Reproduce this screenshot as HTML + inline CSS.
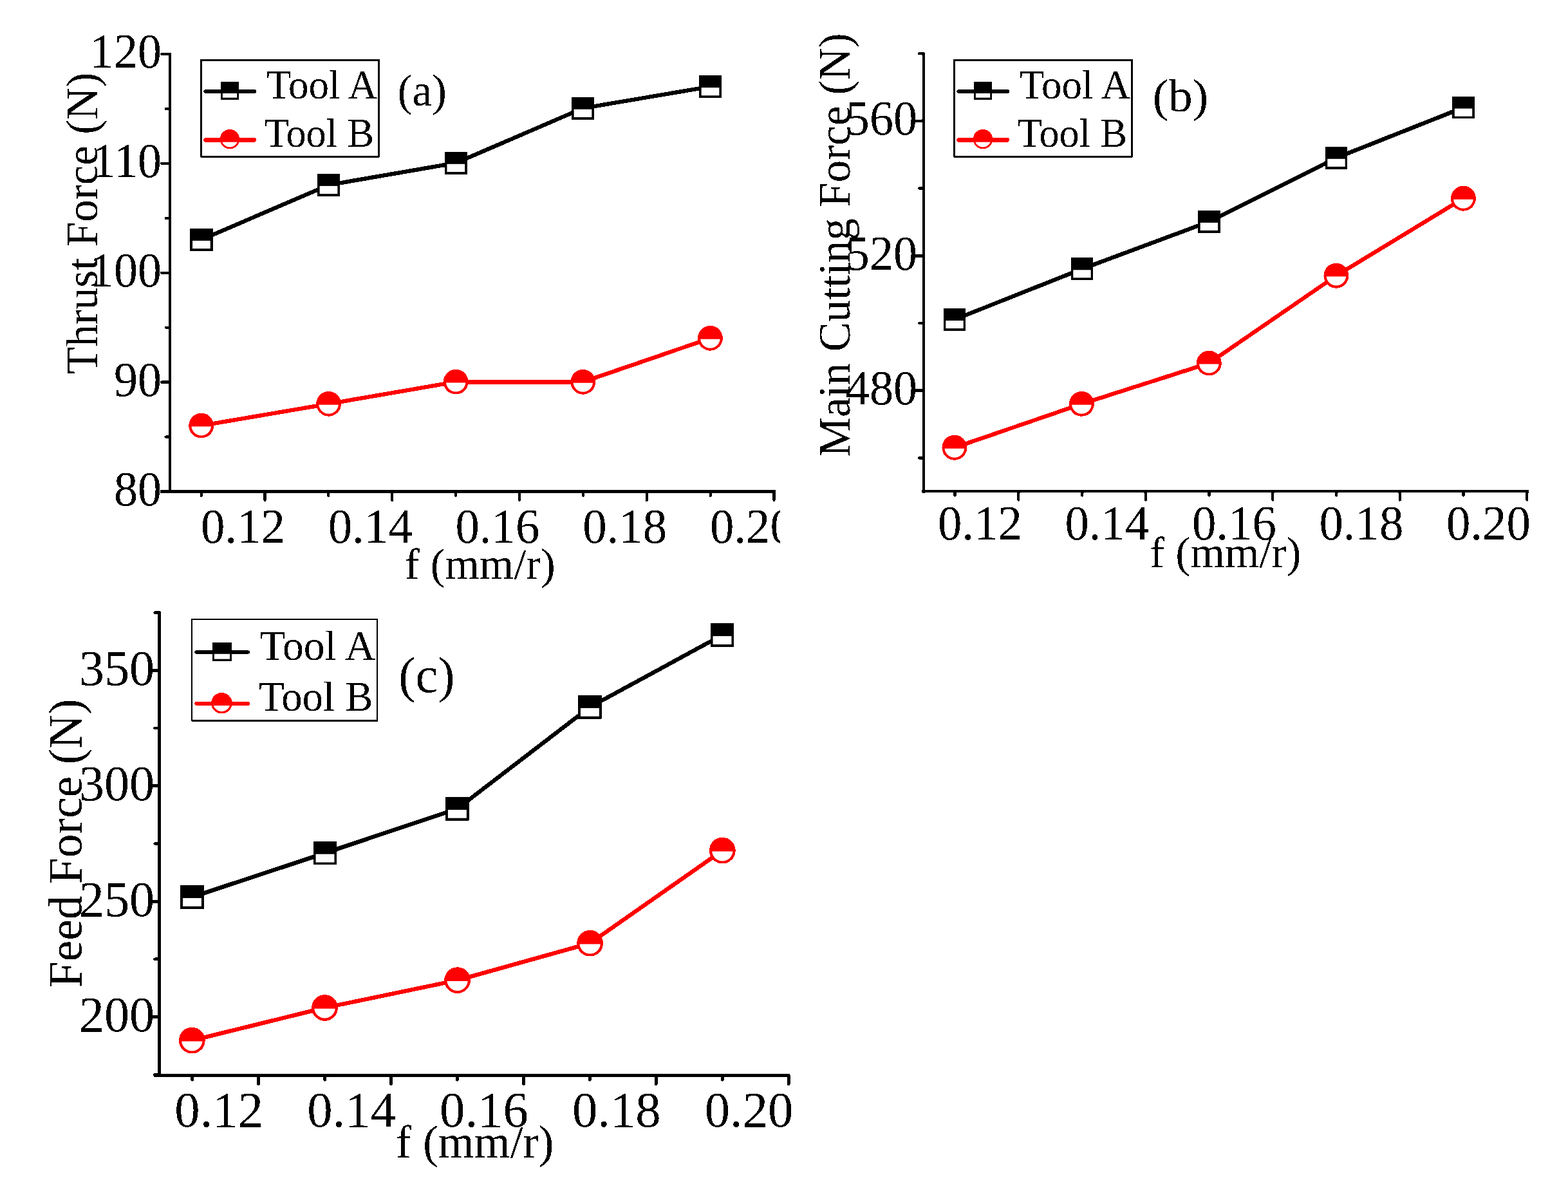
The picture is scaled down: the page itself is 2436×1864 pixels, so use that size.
<!DOCTYPE html>
<html><head><meta charset="utf-8"><title>Cutting forces vs feed</title>
<style>html,body{margin:0;padding:0;background:#fff;}svg{display:block;}</style>
</head><body>
<svg width="2436" height="1864" viewBox="0 0 2436 1864" font-family="'Liberation Serif', 'Times New Roman', serif">
<rect width="2436" height="1864" fill="#fff"/>
<filter id="crisp" x="0" y="0" width="2436" height="1864" filterUnits="userSpaceOnUse" color-interpolation-filters="sRGB"><feComponentTransfer><feFuncA type="discrete" tableValues="0 1"/></feComponentTransfer></filter>
<g filter="url(#crisp)">
<rect x="262.05" y="82.3" width="3.9" height="683.55" fill="#000"/>
<rect x="249" y="761.15" width="956" height="4.7" fill="#000"/>
<line x1="264" y1="763.5" x2="250.95" y2="763.5" stroke="#000" stroke-width="4.2" stroke-linecap="round"/>
<line x1="264" y1="678.58" x2="257.55" y2="678.58" stroke="#000" stroke-width="4.2" stroke-linecap="round"/>
<line x1="264" y1="593.65" x2="250.95" y2="593.65" stroke="#000" stroke-width="4.2" stroke-linecap="round"/>
<line x1="264" y1="508.73" x2="257.55" y2="508.73" stroke="#000" stroke-width="4.2" stroke-linecap="round"/>
<line x1="264" y1="423.8" x2="250.95" y2="423.8" stroke="#000" stroke-width="4.2" stroke-linecap="round"/>
<line x1="264" y1="338.88" x2="257.55" y2="338.88" stroke="#000" stroke-width="4.2" stroke-linecap="round"/>
<line x1="264" y1="253.95" x2="250.95" y2="253.95" stroke="#000" stroke-width="4.2" stroke-linecap="round"/>
<line x1="264" y1="169.02" x2="257.55" y2="169.02" stroke="#000" stroke-width="4.2" stroke-linecap="round"/>
<line x1="264" y1="84.1" x2="250.95" y2="84.1" stroke="#000" stroke-width="4.2" stroke-linecap="round"/>
<line x1="312.63" y1="763.5" x2="312.63" y2="769.95" stroke="#000" stroke-width="4.2" stroke-linecap="round"/>
<line x1="411.5" y1="763.5" x2="411.5" y2="776.95" stroke="#000" stroke-width="4.2" stroke-linecap="round"/>
<line x1="510.38" y1="763.5" x2="510.38" y2="769.95" stroke="#000" stroke-width="4.2" stroke-linecap="round"/>
<line x1="609.25" y1="763.5" x2="609.25" y2="776.95" stroke="#000" stroke-width="4.2" stroke-linecap="round"/>
<line x1="708.12" y1="763.5" x2="708.12" y2="769.95" stroke="#000" stroke-width="4.2" stroke-linecap="round"/>
<line x1="807" y1="763.5" x2="807" y2="776.95" stroke="#000" stroke-width="4.2" stroke-linecap="round"/>
<line x1="905.87" y1="763.5" x2="905.87" y2="769.95" stroke="#000" stroke-width="4.2" stroke-linecap="round"/>
<line x1="1004.75" y1="763.5" x2="1004.75" y2="776.95" stroke="#000" stroke-width="4.2" stroke-linecap="round"/>
<line x1="1103.62" y1="763.5" x2="1103.62" y2="769.95" stroke="#000" stroke-width="4.2" stroke-linecap="round"/>
<line x1="1202.5" y1="763.5" x2="1202.5" y2="776.95" stroke="#000" stroke-width="4.2" stroke-linecap="round"/>
<rect x="1432.6" y="82.4" width="4" height="683.05" fill="#000"/>
<rect x="1432.6" y="760.75" width="942.1" height="4.7" fill="#000"/>
<line x1="1434.6" y1="711.4" x2="1428.1" y2="711.4" stroke="#000" stroke-width="4.2" stroke-linecap="round"/>
<line x1="1434.6" y1="606.7" x2="1421.5" y2="606.7" stroke="#000" stroke-width="4.2" stroke-linecap="round"/>
<line x1="1434.6" y1="502" x2="1428.1" y2="502" stroke="#000" stroke-width="4.2" stroke-linecap="round"/>
<line x1="1434.6" y1="397.3" x2="1421.5" y2="397.3" stroke="#000" stroke-width="4.2" stroke-linecap="round"/>
<line x1="1434.6" y1="292.6" x2="1428.1" y2="292.6" stroke="#000" stroke-width="4.2" stroke-linecap="round"/>
<line x1="1434.6" y1="187.9" x2="1421.5" y2="187.9" stroke="#000" stroke-width="4.2" stroke-linecap="round"/>
<line x1="1434.6" y1="83.2" x2="1428.1" y2="83.2" stroke="#000" stroke-width="4.2" stroke-linecap="round"/>
<line x1="1483.55" y1="763.1" x2="1483.55" y2="769.55" stroke="#000" stroke-width="4.2" stroke-linecap="round"/>
<line x1="1582.3" y1="763.1" x2="1582.3" y2="776.55" stroke="#000" stroke-width="4.2" stroke-linecap="round"/>
<line x1="1681.05" y1="763.1" x2="1681.05" y2="769.55" stroke="#000" stroke-width="4.2" stroke-linecap="round"/>
<line x1="1779.8" y1="763.1" x2="1779.8" y2="776.55" stroke="#000" stroke-width="4.2" stroke-linecap="round"/>
<line x1="1878.55" y1="763.1" x2="1878.55" y2="769.55" stroke="#000" stroke-width="4.2" stroke-linecap="round"/>
<line x1="1977.3" y1="763.1" x2="1977.3" y2="776.55" stroke="#000" stroke-width="4.2" stroke-linecap="round"/>
<line x1="2076.05" y1="763.1" x2="2076.05" y2="769.55" stroke="#000" stroke-width="4.2" stroke-linecap="round"/>
<line x1="2174.8" y1="763.1" x2="2174.8" y2="776.55" stroke="#000" stroke-width="4.2" stroke-linecap="round"/>
<line x1="2273.55" y1="763.1" x2="2273.55" y2="769.55" stroke="#000" stroke-width="4.2" stroke-linecap="round"/>
<line x1="2372.3" y1="763.1" x2="2372.3" y2="776.55" stroke="#000" stroke-width="4.2" stroke-linecap="round"/>
<rect x="245" y="949.5" width="4.8" height="723.25" fill="#000"/>
<rect x="238.6" y="1667.85" width="988.1" height="4.9" fill="#000"/>
<line x1="247.4" y1="1669.32" x2="240.5" y2="1669.32" stroke="#000" stroke-width="4.6" stroke-linecap="round"/>
<line x1="247.4" y1="1579.6" x2="233.7" y2="1579.6" stroke="#000" stroke-width="4.6" stroke-linecap="round"/>
<line x1="247.4" y1="1489.88" x2="240.5" y2="1489.88" stroke="#000" stroke-width="4.6" stroke-linecap="round"/>
<line x1="247.4" y1="1400.17" x2="233.7" y2="1400.17" stroke="#000" stroke-width="4.6" stroke-linecap="round"/>
<line x1="247.4" y1="1310.45" x2="240.5" y2="1310.45" stroke="#000" stroke-width="4.6" stroke-linecap="round"/>
<line x1="247.4" y1="1220.73" x2="233.7" y2="1220.73" stroke="#000" stroke-width="4.6" stroke-linecap="round"/>
<line x1="247.4" y1="1131.02" x2="240.5" y2="1131.02" stroke="#000" stroke-width="4.6" stroke-linecap="round"/>
<line x1="247.4" y1="1041.3" x2="233.7" y2="1041.3" stroke="#000" stroke-width="4.6" stroke-linecap="round"/>
<line x1="247.4" y1="951.58" x2="240.5" y2="951.58" stroke="#000" stroke-width="4.6" stroke-linecap="round"/>
<line x1="298.78" y1="1670.3" x2="298.78" y2="1677.35" stroke="#000" stroke-width="4.8" stroke-linecap="round"/>
<line x1="401.7" y1="1670.3" x2="401.7" y2="1683.95" stroke="#000" stroke-width="4.8" stroke-linecap="round"/>
<line x1="504.62" y1="1670.3" x2="504.62" y2="1677.35" stroke="#000" stroke-width="4.8" stroke-linecap="round"/>
<line x1="607.55" y1="1670.3" x2="607.55" y2="1683.95" stroke="#000" stroke-width="4.8" stroke-linecap="round"/>
<line x1="710.47" y1="1670.3" x2="710.47" y2="1677.35" stroke="#000" stroke-width="4.8" stroke-linecap="round"/>
<line x1="813.4" y1="1670.3" x2="813.4" y2="1683.95" stroke="#000" stroke-width="4.8" stroke-linecap="round"/>
<line x1="916.32" y1="1670.3" x2="916.32" y2="1677.35" stroke="#000" stroke-width="4.8" stroke-linecap="round"/>
<line x1="1019.25" y1="1670.3" x2="1019.25" y2="1683.95" stroke="#000" stroke-width="4.8" stroke-linecap="round"/>
<line x1="1122.17" y1="1670.3" x2="1122.17" y2="1677.35" stroke="#000" stroke-width="4.8" stroke-linecap="round"/>
<line x1="1225.1" y1="1670.3" x2="1225.1" y2="1683.95" stroke="#000" stroke-width="4.8" stroke-linecap="round"/>
<text transform="translate(139.87,105.12) scale(0.9620,1)" font-size="77">120</text>
<text transform="translate(142.64,274.97) scale(0.9620,1)" font-size="77">110</text>
<text transform="translate(139.87,444.82) scale(0.9620,1)" font-size="77">100</text>
<text transform="translate(176.9,614.67) scale(0.9620,1)" font-size="77">90</text>
<text transform="translate(176.9,784.52) scale(0.9620,1)" font-size="77">80</text>
<clipPath id="ca"><rect x="0" y="700" width="1212.1" height="200"/></clipPath>
<g clip-path="url(#ca)">
<text transform="translate(311.89,843) scale(0.9730,1)" font-size="77">0.12</text>
<text transform="translate(509.64,843) scale(0.9730,1)" font-size="77">0.14</text>
<text transform="translate(707.39,843) scale(0.9730,1)" font-size="77">0.16</text>
<text transform="translate(905.14,843) scale(0.9730,1)" font-size="77">0.18</text>
<text transform="translate(1102.89,843) scale(0.9730,1)" font-size="77">0.20</text>
</g>
<text transform="translate(1313.87,209.32) scale(0.9620,1)" font-size="77">560</text>
<text transform="translate(1313.87,418.72) scale(0.9620,1)" font-size="77">520</text>
<text transform="translate(1313.87,628.12) scale(0.9620,1)" font-size="77">480</text>
<text transform="translate(1456.89,838) scale(0.9730,1)" font-size="77">0.12</text>
<text transform="translate(1654.39,838) scale(0.9730,1)" font-size="77">0.14</text>
<text transform="translate(1851.89,838) scale(0.9730,1)" font-size="77">0.16</text>
<text transform="translate(2049.39,838) scale(0.9730,1)" font-size="77">0.18</text>
<text transform="translate(2246.89,838) scale(0.9730,1)" font-size="77">0.20</text>
<text transform="translate(122.74,1064.04) scale(1.0000,1)" font-size="78.3">350</text>
<text transform="translate(122.74,1243.48) scale(1.0000,1)" font-size="78.3">300</text>
<text transform="translate(122.74,1422.91) scale(1.0000,1)" font-size="78.3">250</text>
<text transform="translate(122.74,1602.34) scale(1.0000,1)" font-size="78.3">200</text>
<text transform="translate(271.35,1749.87) scale(1.0050,1)" font-size="78.3">0.12</text>
<text transform="translate(477.2,1749.87) scale(1.0050,1)" font-size="78.3">0.14</text>
<text transform="translate(683.05,1749.87) scale(1.0050,1)" font-size="78.3">0.16</text>
<text transform="translate(888.9,1749.87) scale(1.0050,1)" font-size="78.3">0.18</text>
<text transform="translate(1094.75,1749.87) scale(1.0050,1)" font-size="78.3">0.20</text>
<text transform="translate(628.74,899.21) scale(0.9986,1)" font-size="68.66" fill="#000">f (mm/r)</text>
<text transform="translate(1786.23,881.01) scale(1.0026,1)" font-size="68.66" fill="#000">f (mm/r)</text>
<text transform="translate(615.05,1797.64) scale(1.0001,1)" font-size="71.83" fill="#000">f (mm/r)</text>
<text transform="translate(151.4,580.91) rotate(-90) scale(0.9942,1)" font-size="69.5">Thrust Force (N)</text>
<text transform="translate(1320.18,709.57) rotate(-90) scale(0.9886,1)" font-size="69.9">Main Cutting Force (N)</text>
<text transform="translate(126.6,1534.2) rotate(-90) scale(1.0047,1)" font-size="73.1">Feed Force (N)</text>
<text transform="translate(617.71,164.35) scale(0.9841,1)" font-size="69.86" fill="#000">(a)</text>
<text transform="translate(1790.66,172.52) scale(1.0193,1)" font-size="72.84" fill="#000">(b)</text>
<text transform="translate(619.37,1074.69) scale(1.0109,1)" font-size="77.69" fill="#000">(c)</text>
<polyline points="312.9,372.3 510.5,287.3 708.3,253.2 905.5,168.2 1103.5,134.5" fill="none" stroke="#000" stroke-width="6.3" stroke-linejoin="round" stroke-linecap="butt"/>
<polyline points="312.7,661.2 510.6,627.3 708.2,593.2 905.8,593.3 1103.4,525.4" fill="none" stroke="#f00" stroke-width="6.3" stroke-linejoin="round" stroke-linecap="butt"/>
<rect x="295.25" y="354.65" width="35.3" height="35.3" fill="#000"/>
<rect x="299.05" y="373.9" width="27.7" height="12.25" fill="#fff"/>
<rect x="492.85" y="269.65" width="35.3" height="35.3" fill="#000"/>
<rect x="496.65" y="288.9" width="27.7" height="12.25" fill="#fff"/>
<rect x="690.65" y="235.55" width="35.3" height="35.3" fill="#000"/>
<rect x="694.45" y="254.8" width="27.7" height="12.25" fill="#fff"/>
<rect x="887.85" y="150.55" width="35.3" height="35.3" fill="#000"/>
<rect x="891.65" y="169.8" width="27.7" height="12.25" fill="#fff"/>
<rect x="1085.85" y="116.85" width="35.3" height="35.3" fill="#000"/>
<rect x="1089.65" y="136.1" width="27.7" height="12.25" fill="#fff"/>
<circle cx="312.7" cy="661.2" r="19.4" fill="#f00"/>
<path d="M297.46,662.6 A15.3,15.3 0 0 0 327.94,662.6 Z" fill="#fff"/>
<circle cx="510.6" cy="627.3" r="19.4" fill="#f00"/>
<path d="M495.36,628.7 A15.3,15.3 0 0 0 525.84,628.7 Z" fill="#fff"/>
<circle cx="708.2" cy="593.2" r="19.4" fill="#f00"/>
<path d="M692.96,594.6 A15.3,15.3 0 0 0 723.44,594.6 Z" fill="#fff"/>
<circle cx="905.8" cy="593.3" r="19.4" fill="#f00"/>
<path d="M890.56,594.7 A15.3,15.3 0 0 0 921.04,594.7 Z" fill="#fff"/>
<circle cx="1103.4" cy="525.4" r="19.4" fill="#f00"/>
<path d="M1088.16,526.8 A15.3,15.3 0 0 0 1118.64,526.8 Z" fill="#fff"/>
<polyline points="1483,496.4 1681,417.7 1878.4,344.3 2076,245.2 2273.5,167" fill="none" stroke="#000" stroke-width="6.3" stroke-linejoin="round" stroke-linecap="butt"/>
<polyline points="1482.9,695.3 1680.4,627.4 1878.3,564.1 2075.9,428.2 2273.4,308.3" fill="none" stroke="#f00" stroke-width="6.3" stroke-linejoin="round" stroke-linecap="butt"/>
<rect x="1465.6" y="479" width="34.8" height="34.8" fill="#000"/>
<rect x="1469.3" y="498" width="27.4" height="12.1" fill="#fff"/>
<rect x="1663.6" y="400.3" width="34.8" height="34.8" fill="#000"/>
<rect x="1667.3" y="419.3" width="27.4" height="12.1" fill="#fff"/>
<rect x="1861" y="326.9" width="34.8" height="34.8" fill="#000"/>
<rect x="1864.7" y="345.9" width="27.4" height="12.1" fill="#fff"/>
<rect x="2058.6" y="227.8" width="34.8" height="34.8" fill="#000"/>
<rect x="2062.3" y="246.8" width="27.4" height="12.1" fill="#fff"/>
<rect x="2256.1" y="149.6" width="34.8" height="34.8" fill="#000"/>
<rect x="2259.8" y="168.6" width="27.4" height="12.1" fill="#fff"/>
<circle cx="1482.9" cy="695.3" r="19.45" fill="#f00"/>
<path d="M1467.61,696.7 A15.35,15.35 0 0 0 1498.19,696.7 Z" fill="#fff"/>
<circle cx="1680.4" cy="627.4" r="19.45" fill="#f00"/>
<path d="M1665.11,628.8 A15.35,15.35 0 0 0 1695.69,628.8 Z" fill="#fff"/>
<circle cx="1878.3" cy="564.1" r="19.45" fill="#f00"/>
<path d="M1863.01,565.5 A15.35,15.35 0 0 0 1893.59,565.5 Z" fill="#fff"/>
<circle cx="2075.9" cy="428.2" r="19.45" fill="#f00"/>
<path d="M2060.61,429.6 A15.35,15.35 0 0 0 2091.19,429.6 Z" fill="#fff"/>
<circle cx="2273.4" cy="308.3" r="19.45" fill="#f00"/>
<path d="M2258.11,309.7 A15.35,15.35 0 0 0 2288.69,309.7 Z" fill="#fff"/>
<polyline points="298.5,1393.4 505,1325.1 710.4,1256.3 916.4,1098.3 1122,986.5" fill="none" stroke="#000" stroke-width="6.4" stroke-linejoin="round" stroke-linecap="butt"/>
<polyline points="298.3,1616.2 504.5,1565.4 710.6,1522.7 916.6,1465.2 1122.3,1321.2" fill="none" stroke="#f00" stroke-width="6.4" stroke-linejoin="round" stroke-linecap="butt"/>
<rect x="280.15" y="1375.05" width="36.7" height="36.7" fill="#000"/>
<rect x="284.05" y="1395" width="28.9" height="12.85" fill="#fff"/>
<rect x="486.65" y="1306.75" width="36.7" height="36.7" fill="#000"/>
<rect x="490.55" y="1326.7" width="28.9" height="12.85" fill="#fff"/>
<rect x="692.05" y="1237.95" width="36.7" height="36.7" fill="#000"/>
<rect x="695.95" y="1257.9" width="28.9" height="12.85" fill="#fff"/>
<rect x="898.05" y="1079.95" width="36.7" height="36.7" fill="#000"/>
<rect x="901.95" y="1099.9" width="28.9" height="12.85" fill="#fff"/>
<rect x="1103.65" y="968.15" width="36.7" height="36.7" fill="#000"/>
<rect x="1107.55" y="988.1" width="28.9" height="12.85" fill="#fff"/>
<circle cx="298.3" cy="1616.2" r="20.4" fill="#f00"/>
<path d="M282.16,1617.6 A16.2,16.2 0 0 0 314.44,1617.6 Z" fill="#fff"/>
<circle cx="504.5" cy="1565.4" r="20.4" fill="#f00"/>
<path d="M488.36,1566.8 A16.2,16.2 0 0 0 520.64,1566.8 Z" fill="#fff"/>
<circle cx="710.6" cy="1522.7" r="20.4" fill="#f00"/>
<path d="M694.46,1524.1 A16.2,16.2 0 0 0 726.74,1524.1 Z" fill="#fff"/>
<circle cx="916.6" cy="1465.2" r="20.4" fill="#f00"/>
<path d="M900.46,1466.6 A16.2,16.2 0 0 0 932.74,1466.6 Z" fill="#fff"/>
<circle cx="1122.3" cy="1321.2" r="20.4" fill="#f00"/>
<path d="M1106.16,1322.6 A16.2,16.2 0 0 0 1138.44,1322.6 Z" fill="#fff"/>
<rect x="312.8" y="93.3" width="275.8" height="149.9" fill="none" stroke="#000" stroke-width="2.6"/>
<line x1="319.3" y1="142" x2="394.9" y2="142" stroke="#000" stroke-width="6" stroke-linecap="round"/>
<rect x="343" y="126.9" width="28.1" height="27.7" fill="#000"/>
<rect x="345.9" y="145" width="22.3" height="6.7" fill="#fff"/>
<line x1="319.6" y1="217.4" x2="394.6" y2="217.4" stroke="#f00" stroke-width="6.6" stroke-linecap="round"/>
<circle cx="357" cy="216.3" r="15.3" fill="#f00"/>
<path d="M344.75,217.4 A12.3,12.3 0 0 0 369.25,217.4 Z" fill="#fff"/>
<line x1="344.7" y1="217.4" x2="369.3" y2="217.4" stroke="#f00" stroke-width="6.6"/>
<text transform="translate(413.9,153.28) scale(1.0075,1)" font-size="62.5" fill="#000">Tool A</text>
<text transform="translate(410.75,228.28) scale(0.9971,1)" font-size="62.41" fill="#000">Tool B</text>
<rect x="1482.8" y="93.3" width="275.8" height="149.9" fill="none" stroke="#000" stroke-width="2.6"/>
<line x1="1489.3" y1="142" x2="1564.9" y2="142" stroke="#000" stroke-width="6" stroke-linecap="round"/>
<rect x="1513" y="126.9" width="28.1" height="27.7" fill="#000"/>
<rect x="1515.9" y="145" width="22.3" height="6.7" fill="#fff"/>
<line x1="1489.6" y1="217.4" x2="1564.6" y2="217.4" stroke="#f00" stroke-width="6.6" stroke-linecap="round"/>
<circle cx="1527" cy="216.3" r="15.3" fill="#f00"/>
<path d="M1514.75,217.4 A12.3,12.3 0 0 0 1539.25,217.4 Z" fill="#fff"/>
<line x1="1514.7" y1="217.4" x2="1539.3" y2="217.4" stroke="#f00" stroke-width="6.6"/>
<text transform="translate(1583.9,153.28) scale(1.0075,1)" font-size="62.5" fill="#000">Tool A</text>
<text transform="translate(1580.75,228.28) scale(0.9971,1)" font-size="62.41" fill="#000">Tool B</text>
<rect x="298.3" y="962" width="287.9" height="157.5" fill="none" stroke="#000" stroke-width="2.2"/>
<line x1="305.2" y1="1013" x2="385.1" y2="1013" stroke="#000" stroke-width="5.6" stroke-linecap="round"/>
<rect x="329.9" y="998" width="30.1" height="28.7" fill="#000"/>
<rect x="332.9" y="1015.8" width="24.1" height="7.9" fill="#fff"/>
<line x1="305.5" y1="1092.9" x2="384.8" y2="1092.9" stroke="#f00" stroke-width="6.2" stroke-linecap="round"/>
<circle cx="344.4" cy="1092.2" r="16.2" fill="#f00"/>
<path d="M331.42,1092.9 A13,13 0 0 0 357.38,1092.9 Z" fill="#fff"/>
<line x1="331.4" y1="1092.9" x2="357.4" y2="1092.9" stroke="#f00" stroke-width="6.2"/>
<text transform="translate(403.45,1025.25) scale(1.0085,1)" font-size="65.11" fill="#000">Tool A</text>
<text transform="translate(402.06,1104.25) scale(0.9964,1)" font-size="65.11" fill="#000">Tool B</text>
</g>
</svg>
</body></html>
